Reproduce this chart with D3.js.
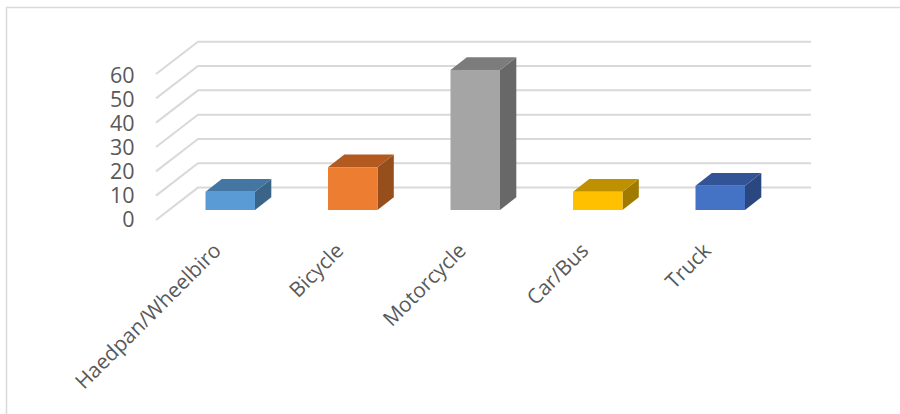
<!DOCTYPE html>
<html><head><meta charset="utf-8">
<script src="https://cdn.jsdelivr.net/npm/d3@7"></script>
<style>html,body{margin:0;padding:0;background:#fff}svg{display:block}text{font-family:"Open Sans",sans-serif;fill:#595959}</style>
</head><body><svg id="c" width="900" height="414"></svg>
<script>
const categories=["Haedpan/Wheelbiro","Bicycle","Motorcycle","Car/Bus","Truck"];
const values=[7.5,17.6,57.6,7.5,10];
const yTicks=[0,10,20,30,40,50,60];
const frontColors=["#5b9bd5","#ed7d31","#a5a5a5","#ffc000","#4472c4"];
const topColors=["#4376a3","#b35a20","#7c7c7c","#bf9000","#325496"];
const sideColors=["#3a6589","#964f1c","#686868","#a17a00","#2b4780"];

const svg=d3.select("#c");
const gridColor="#d9d9d9";
svg.append("path").attr("d","M6.5,414V7.5H900").attr("fill","none").attr("stroke",gridColor).attr("stroke-width",1.5);

const yFront=d3.scaleLinear().domain([0,60]).range([220,74]);
const yBack=d3.scaleLinear().domain([0,60]).range([187.6,41.7]);
const yBar=d3.scaleLinear().domain([0,60]).range([210,64.1]);
const yLabel=d3.scaleLinear().domain([0,60]).range([219,75.5]);
const x=d3.scaleBand().domain(categories).range([169,781.5]).paddingInner(0.596).paddingOuter(0.298);
const depthX=16.3, depthY=12.7;

const grid=svg.append("g").attr("fill","none").attr("stroke",gridColor).attr("stroke-width",2);
grid.selectAll("path").data(yTicks).join("path")
  .attr("d",t=>`M156,${yFront(t)}L198,${yBack(t)}H811`);

const bars=svg.append("g").selectAll("g").data(categories).join("g");
bars.append("path")
  .attr("fill",(d,i)=>sideColors[i])
  .attr("d",(d,i)=>{const r=x(d)+x.bandwidth(),t=yBar(values[i]),b=yBar(0);
    return `M${r},${t}l${depthX},${-depthY}V${b-depthY}L${r},${b}Z`;});
bars.append("path")
  .attr("fill",(d,i)=>topColors[i])
  .attr("d",(d,i)=>{const l=x(d),r=l+x.bandwidth(),t=yBar(values[i]);
    return `M${l},${t}l${depthX},${-depthY}H${r+depthX}L${r},${t}Z`;});
bars.append("rect")
  .attr("x",d=>x(d)).attr("width",x.bandwidth())
  .attr("y",(d,i)=>yBar(values[i])).attr("height",(d,i)=>yBar(0)-yBar(values[i]))
  .attr("fill",(d,i)=>frontColors[i]);

svg.append("g").selectAll("text").data(yTicks).join("text")
  .attr("x",134.5).attr("y",t=>yLabel(t)).attr("dy","0.35em").attr("text-anchor","end")
  .attr("font-size",21.5).text(t=>t);

svg.append("g").selectAll("text").data(categories).join("text")
  .attr("text-anchor","end").attr("font-size",20.8)
  .attr("transform",d=>`translate(${x(d)+x.bandwidth()/2-8},${252}) rotate(-45)`)
  .text(d=>d);
</script></body></html>
